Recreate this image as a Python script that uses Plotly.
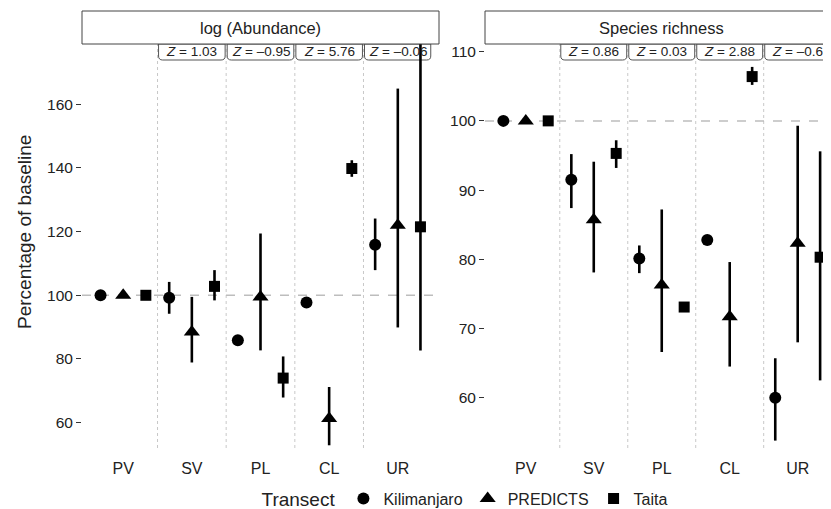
import plotly.graph_objects as go

# ---------------- data ----------------
categories = ["PV", "SV", "PL", "CL", "UR"]
transects = ["Kilimanjaro", "PREDICTS", "Taita"]

# log(Abundance): percentage of baseline
kili_ab = [100, 99.2, 85.9, 97.7, 115.9]
kili_ab_lo = [100, 94.2, 85.9, 97.7, 107.9]
kili_ab_hi = [100, 104.2, 85.9, 97.7, 124.1]
pred_ab = [100, 88.5, 99.5, 61.3, 122.0]
pred_ab_lo = [100, 78.9, 82.7, 52.9, 89.9]
pred_ab_hi = [100, 99.5, 119.4, 71.2, 164.9]
taita_ab = [100, 102.8, 74.0, 139.8, 121.5]
taita_ab_lo = [100, 98.4, 67.9, 137.2, 82.7]
taita_ab_hi = [100, 107.9, 80.8, 142.4, 185.0]

# Species richness: percentage of baseline
kili_sr = [100, 91.5, 80.1, 82.8, 60.0]
kili_sr_lo = [100, 87.4, 78.0, 82.8, 53.8]
kili_sr_hi = [100, 95.2, 82.0, 82.8, 65.7]
pred_sr = [100, 85.7, 76.3, 71.7, 82.3]
pred_sr_lo = [100, 78.1, 66.6, 64.5, 68.0]
pred_sr_hi = [100, 94.1, 87.2, 79.6, 99.3]
taita_sr = [100, 95.3, 73.1, 106.4, 80.3]
taita_sr_lo = [100, 93.2, 73.1, 105.2, 62.5]
taita_sr_hi = [100, 97.2, 73.1, 107.8, 95.6]

z_ab = ["1.03", "\u20130.95", "5.76", "\u20130.06"]
z_sr = ["0.86", "0.03", "2.88", "\u20130.6"]

panel_titles = ["log (Abundance)", "Species richness"]
y_ticks_ab = [60, 80, 100, 120, 140, 160]
y_ticks_sr = [60, 70, 80, 90, 100, 110]

# ---------------- layout constants ----------------
OFF = 8                      # page body margin
W, H = 831 - OFF, 509 - OFF  # figure size so that it ends at the window edge
FONT = "Liberation Sans, Arial, Helvetica, sans-serif"
TXT = "#222222"

def px_x(p):
    return (p - OFF) / W

def px_y(p):
    return (H - (p - OFF)) / H

plot_top, plot_bot = 44, 448
strip_top = 11
zbox_bot = 60

symbols = ["circle", "triangle-up", "square"]
sizes = [12, 14, 11]
dodge = [-0.33, 0.0, 0.33]

fig = go.Figure()

panels = [
    ("x", "y", [kili_ab, pred_ab, taita_ab],
     [kili_ab_lo, pred_ab_lo, taita_ab_lo],
     [kili_ab_hi, pred_ab_hi, taita_ab_hi]),
    ("x2", "y2", [kili_sr, pred_sr, taita_sr],
     [kili_sr_lo, pred_sr_lo, taita_sr_lo],
     [kili_sr_hi, pred_sr_hi, taita_sr_hi]),
]

for pi, (xa, ya, vals, los, his) in enumerate(panels):
    for ti, name in enumerate(transects):
        xs = [i + dodge[ti] for i in range(len(categories))]
        v = vals[ti]
        up = [h - m for h, m in zip(his[ti], v)]
        dn = [m - l for m, l in zip(v, los[ti])]
        fig.add_trace(go.Scatter(
            x=xs, y=v, xaxis=xa, yaxis=ya, mode="markers", name=name,
            legendgroup=name, showlegend=(pi == 0),
            marker=dict(symbol=symbols[ti], size=sizes[ti], color="black"),
            error_y=dict(type="data", symmetric=False, array=up,
                         arrayminus=dn, width=0, thickness=2.6, color="black"),
        ))

shapes = []
annotations = []

panel_dom = [(px_x(82), px_x(439)), (px_x(485), 1.0)]
x_ranges = [[-0.6, 4.6], [-0.6, 4.49]]
y_ranges = [[52.05, 178.9], [52.73, 111.11]]

for pi, (xa, ya) in enumerate([("x", "y"), ("x2", "y2")]):
    yd = ya + " domain"
    xd = xa + " domain"
    # vertical dotted separators
    for i in range(len(categories) - 1):
        shapes.append(dict(type="line", xref=xa, yref=yd, x0=i + 0.5, x1=i + 0.5,
                           y0=0, y1=1, line=dict(color="#c8c8c8", width=1, dash="dot"),
                           layer="below"))
    # dashed baseline
    shapes.append(dict(type="line", xref=xd, yref=ya, x0=0, x1=1, y0=100, y1=100,
                       line=dict(color="#bdbdbd", width=1.5, dash="dash"), layer="below"))
    # strip
    x0s = panel_dom[pi][0]
    x1s = panel_dom[pi][1] if pi == 0 else 1.02
    shapes.append(dict(type="rect", xref="paper", yref="paper", x0=x0s, x1=x1s,
                       y0=px_y(plot_top), y1=px_y(strip_top),
                       line=dict(color="#444444", width=1), fillcolor="white", layer="above"))
    annotations.append(dict(xref=xa, yref="paper", x=2, y=px_y((strip_top + plot_top) / 2),
                            text=panel_titles[pi], showarrow=False,
                            font=dict(family=FONT, size=16.5, color=TXT),
                            xanchor="center", yanchor="middle"))
    # Z boxes with rounded bottom corners
    zlist = z_ab if pi == 0 else z_sr
    yt = px_y(plot_top)
    yb = px_y(zbox_bot)
    ry = 4 / H
    rx = 0.06
    for k, zt in enumerate(zlist):
        c = k + 1
        xl, xr = c - 0.485, c + 0.485
        if pi == 0 and c == 4:
            xr = 4.48
        path = (f"M {xl},{yt} L {xl},{yb + ry} Q {xl},{yb} {xl + rx},{yb} "
                f"L {xr - rx},{yb} Q {xr},{yb} {xr},{yb + ry} L {xr},{yt} Z")
        shapes.append(dict(type="path", xref=xa, yref="paper", path=path,
                           line=dict(color="#555555", width=1), fillcolor="white",
                           layer="below"))
        annotations.append(dict(xref=xa, yref="paper", x=c, y=(yt + yb) / 2,
                                text=f"<i>Z</i> = {zt}", showarrow=False,
                                font=dict(family=FONT, size=13.5, color=TXT),
                                xanchor="center", yanchor="middle"))

# y-axis title
annotations.append(dict(xref="paper", yref="paper", x=px_x(24), y=px_y(232),
                        text="Percentage of baseline", textangle=-90, showarrow=False,
                        font=dict(family=FONT, size=19, color=TXT),
                        xanchor="center", yanchor="middle"))

common_x = dict(tickmode="array", tickvals=list(range(len(categories))), ticktext=categories,
                showgrid=False, zeroline=False, showline=False, ticks="outside", ticklen=6,
                tickcolor="rgba(0,0,0,0)", tickfont=dict(family=FONT, size=16, color=TXT),
                fixedrange=True)
common_y = dict(showgrid=False, zeroline=False, showline=False, ticks="outside", ticklen=5,
                tickwidth=1, tickcolor="#333333", tickfont=dict(family=FONT, size=15.5, color=TXT),
                tickmode="array", fixedrange=True)

fig.update_layout(
    width=W, height=H,
    margin=dict(l=0, r=0, t=0, b=0, autoexpand=False),
    paper_bgcolor="white", plot_bgcolor="white",
    font=dict(family=FONT, color=TXT),
    xaxis=dict(domain=list(panel_dom[0]), range=x_ranges[0], anchor="y", **common_x),
    xaxis2=dict(domain=list(panel_dom[1]), range=x_ranges[1], anchor="y2", **common_x),
    yaxis=dict(domain=[px_y(plot_bot), px_y(plot_top)], range=y_ranges[0], anchor="x",
               tickvals=y_ticks_ab, ticktext=[f"{t}" for t in y_ticks_ab], **common_y),
    yaxis2=dict(domain=[px_y(plot_bot), px_y(plot_top)], range=y_ranges[1], anchor="x2",
                tickvals=y_ticks_sr, ticktext=[f"{t}" for t in y_ticks_sr], **common_y),
    shapes=shapes,
    annotations=annotations,
    showlegend=True,
    legend=dict(orientation="h", x=px_x(466), xanchor="center", y=px_y(499), yanchor="middle",
                title=dict(text="Transect", side="left", font=dict(family=FONT, size=19, color=TXT)),
                font=dict(family=FONT, size=16, color=TXT), itemwidth=30,
                bgcolor="rgba(0,0,0,0)", tracegroupgap=0),
)

fig.write_html("out.html")
